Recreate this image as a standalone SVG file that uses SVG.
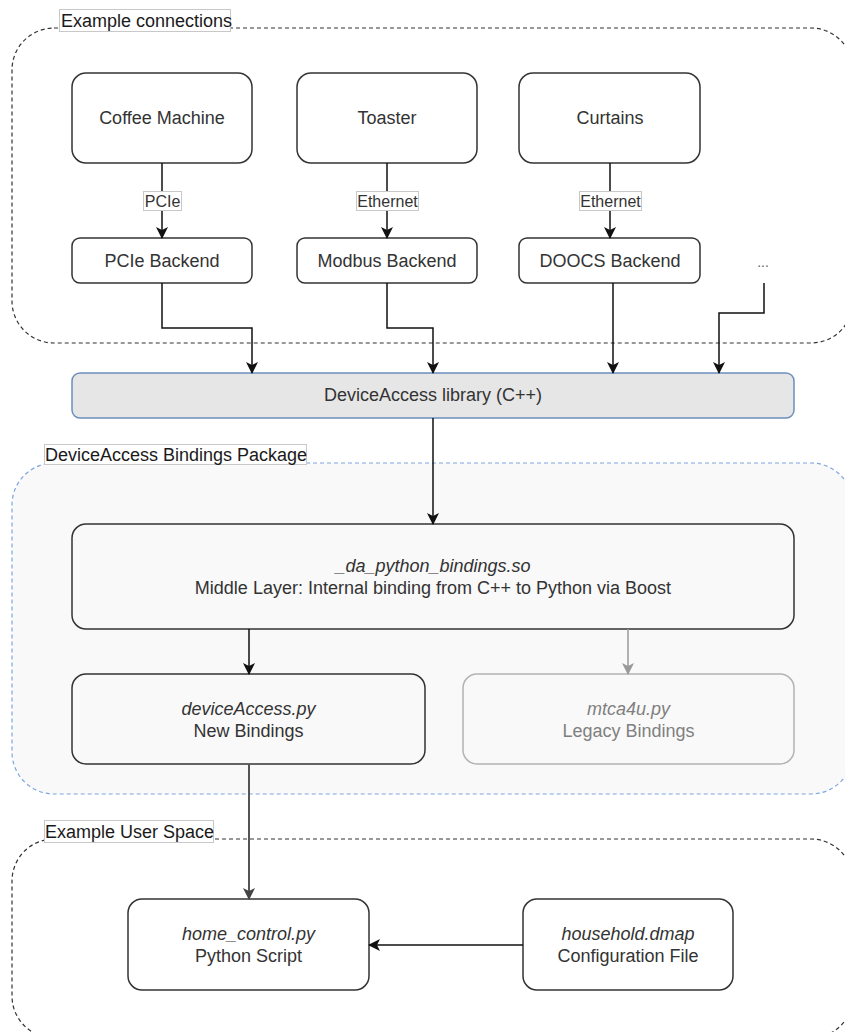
<svg xmlns="http://www.w3.org/2000/svg" width="845" height="1032" viewBox="0 0 845 1032">
<style>
  .node { fill: #ffffff; stroke: #333333; stroke-width: 1.5; }
  .inner { fill: #f9f9f9; stroke: #333333; stroke-width: 1.5; }
  .legacy { fill: #f9f9f9; stroke: #b3b3b3; stroke-width: 1.5; }
  .t { font-family: "Liberation Sans", Arial, sans-serif; font-size: 18px; fill: #333333; text-anchor: middle; }
  .it { font-style: italic; }
  .gray { fill: #808080; }
  .lbl { font-family: "Liberation Sans", Arial, sans-serif; font-size: 18px; fill: #1a1a1a; }
  .lblbox { fill: #ffffff; stroke: #c8c8c8; stroke-width: 1; }
  .elbl { font-family: "Liberation Sans", Arial, sans-serif; font-size: 16px; fill: #333333; text-anchor: middle; }
  .cont { fill: none; stroke: #333333; stroke-width: 1.2; stroke-dasharray: 4 3; }
  .cont-blue { fill: #f9f9f9; stroke: #7ea6e0; stroke-width: 1.2; stroke-dasharray: 4 3; }
  .edge { fill: none; stroke: #111111; stroke-width: 1.5; }
  .edge-gray { fill: none; stroke: #999999; stroke-width: 1.5; }
  .edge-dark { fill: none; stroke: #555555; stroke-width: 2; }
</style>
<defs>
  <marker id="arr" viewBox="0 0 12 12" refX="11" refY="6" markerWidth="12" markerHeight="12" markerUnits="userSpaceOnUse" orient="auto">
    <path d="M0,0 L12,6 L0,12 L3,6 z" fill="#111111"/>
  </marker>
  <marker id="arrGray" viewBox="0 0 12 12" refX="11" refY="6" markerWidth="12" markerHeight="12" markerUnits="userSpaceOnUse" orient="auto">
    <path d="M0,0 L12,6 L0,12 L3,6 z" fill="#999999"/>
  </marker>
  <marker id="arrDark" viewBox="0 0 12 12" refX="11" refY="6" markerWidth="12" markerHeight="12" markerUnits="userSpaceOnUse" orient="auto">
    <path d="M0,0 L12,6 L0,12 L3,6 z" fill="#444444"/>
  </marker>
</defs>

<!-- Containers -->
<g id="container-connections">
  <rect class="cont" x="12" y="28" width="841" height="315" rx="42" ry="42"/>
  <rect class="lblbox" x="59.5" y="9.5" width="171" height="22"/>
  <text class="lbl" x="61" y="27">Example connections</text>
</g>
<g id="container-bindings">
  <rect class="cont-blue" x="12" y="463" width="841" height="331" rx="42" ry="42"/>
  <rect class="lblbox" x="44.5" y="444.5" width="262" height="20"/>
  <text class="lbl" x="45" y="461">DeviceAccess Bindings Package</text>
</g>
<g id="container-userspace">
  <rect class="cont" x="12" y="839" width="841" height="199" rx="42" ry="42"/>
  <rect class="lblbox" x="44.5" y="820.5" width="169" height="22"/>
  <text class="lbl" x="45" y="838">Example User Space</text>
</g>

<!-- Nodes -->
<g id="coffee-machine">
  <rect class="node" x="72" y="73" width="180" height="90" rx="14"/>
  <text class="t" x="162" y="124">Coffee Machine</text>
</g>
<g id="toaster">
  <rect class="node" x="297" y="73" width="180" height="90" rx="14"/>
  <text class="t" x="387" y="124">Toaster</text>
</g>
<g id="curtains">
  <rect class="node" x="519" y="73" width="181" height="90" rx="14"/>
  <text class="t" x="610" y="124">Curtains</text>
</g>
<g id="pcie-backend">
  <rect class="node" x="72" y="238" width="180" height="45" rx="8"/>
  <text class="t" x="162" y="267">PCIe Backend</text>
</g>
<g id="modbus-backend">
  <rect class="node" x="297" y="238" width="180" height="45" rx="8"/>
  <text class="t" x="387" y="267">Modbus Backend</text>
</g>
<g id="doocs-backend">
  <rect class="node" x="519" y="238" width="181" height="45" rx="8"/>
  <text class="t" x="610" y="267">DOOCS Backend</text>
</g>
<g id="more">
  <text class="elbl" x="763" y="267" style="fill:#666666;font-size:14px">...</text>
</g>
<g id="deviceaccess-library">
  <rect x="72" y="373" width="722" height="45" rx="8" fill="#e6e6e6" stroke="#6c8ebf" stroke-width="1.5"/>
  <text class="t" x="433" y="401">DeviceAccess library (C++)</text>
</g>
<g id="middle-layer">
  <rect class="inner" x="72" y="524" width="722" height="105" rx="14"/>
  <text class="t it" x="433" y="572">_da_python_bindings.so</text>
  <text class="t" x="433" y="594">Middle Layer: Internal binding from C++ to Python via Boost</text>
</g>
<g id="deviceaccess-py">
  <rect class="inner" x="72" y="674" width="353" height="90" rx="14"/>
  <text class="t it" x="248.5" y="714.5">deviceAccess.py</text>
  <text class="t" x="248.5" y="736.5">New Bindings</text>
</g>
<g id="mtca4u-py">
  <rect class="legacy" x="463" y="674" width="331" height="90" rx="14"/>
  <text class="t it gray" x="628.5" y="714.5">mtca4u.py</text>
  <text class="t gray" x="628.5" y="736.5">Legacy Bindings</text>
</g>
<g id="home-control">
  <rect class="node" x="128" y="899" width="241" height="91" rx="14"/>
  <text class="t it" x="248.5" y="939.5">home_control.py</text>
  <text class="t" x="248.5" y="961.5">Python Script</text>
</g>
<g id="household-dmap">
  <rect class="node" x="523" y="899" width="210" height="91" rx="14"/>
  <text class="t it" x="628" y="939.5">household.dmap</text>
  <text class="t" x="628" y="961.5">Configuration File</text>
</g>

<!-- Connectors -->
<g id="connectors">
  <path class="edge" d="M162,163 L162,238" marker-end="url(#arr)"/>
  <path class="edge" d="M387,163 L387,238" marker-end="url(#arr)"/>
  <path class="edge" d="M610,163 L610,238" marker-end="url(#arr)"/>
  <path class="edge" d="M162,283 L162,328 L252,328 L252,373" marker-end="url(#arr)"/>
  <path class="edge" d="M387,283 L387,328 L433,328 L433,373" marker-end="url(#arr)"/>
  <path class="edge" d="M613,283 L613,373" marker-end="url(#arr)"/>
  <path class="edge" d="M764,283 L764,313 L719,313 L719,373" marker-end="url(#arr)"/>
  <path class="edge" d="M433,418 L433,524" marker-end="url(#arr)"/>
  <path class="edge" d="M249,629 L249,674" marker-end="url(#arr)"/>
  <path class="edge-gray" d="M628,629 L628,674" marker-end="url(#arrGray)"/>
  <path class="edge-dark" d="M249,764 L249,899" marker-end="url(#arrDark)"/>
  <path class="edge" d="M523,945 L369,945" marker-end="url(#arr)"/>
  <!-- edge labels -->
  <rect class="lblbox" x="143.5" y="191.5" width="38" height="19"/>
  <text class="elbl" x="162.5" y="207">PCIe</text>
  <rect class="lblbox" x="356.5" y="191.5" width="62" height="19"/>
  <text class="elbl" x="387.5" y="207">Ethernet</text>
  <rect class="lblbox" x="579.5" y="191.5" width="62" height="19"/>
  <text class="elbl" x="610.5" y="207">Ethernet</text>
</g>
</svg>
